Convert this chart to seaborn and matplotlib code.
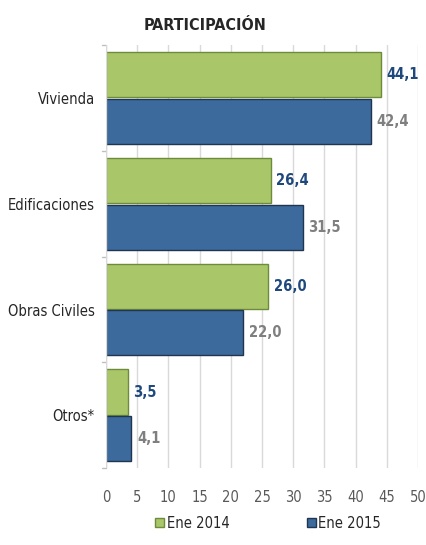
import pandas as pd
import numpy as np
import matplotlib
matplotlib.use("Agg")
import matplotlib.pyplot as plt
import seaborn as sns

# -------------------- DATA --------------------

categories = ["Vivienda", "Edificaciones", "Obras Civiles", "Otros*"]
ene_2014 = [44.1, 26.4, 26.0, 3.5]
ene_2015 = [42.4, 31.5, 22.0, 4.1]
series = ["Ene 2014", "Ene 2015"]
x_ticks = [0, 5, 10, 15, 20, 25, 30, 35, 40, 45, 50]

df = pd.DataFrame({
    "categoria": categories * 2,
    "valor": ene_2014 + ene_2015,
    "serie": [series[0]] * 4 + [series[1]] * 4,
})

# -------------------- STYLE --------------------

sns.set_style("white")
plt.rcParams["font.family"] = ["DejaVu Sans"]
plt.rcParams["font.stretch"] = "condensed"

green = "#A9C768"
blue = "#3D6A9C"
edge = {series[0]: "#6E8B3D", series[1]: "#1F3651"}
lab_col = {series[0]: "#1F497D", series[1]: "#7F7F7F"}

fig = plt.figure(figsize=(4.27, 5.45), dpi=100)
ax = fig.add_axes([0.248, 0.141, 0.731, 0.776])

sns.barplot(data=df, y="categoria", x="valor", hue="serie", orient="h",
            palette=[green, blue], saturation=1, width=0.88, gap=0.03,
            ax=ax, legend=False)

for cont, s in zip(ax.containers, series):
    for bar in cont:
        bar.set_edgecolor(edge[s])
        bar.set_linewidth(1.0)
    ax.bar_label(cont, labels=[f"{v:.1f}".replace(".", ",") for v in cont.datavalues],
                 padding=4, fontsize=10.5, fontweight="bold", color=lab_col[s])

ax.set_xlim(0, 50)
ax.set_ylim(3.5, -0.5)
ax.set_xticks(x_ticks)
ax.set_xticklabels([str(t) for t in x_ticks], fontsize=10.5, color="#595959")
ax.tick_params(axis="x", length=0, pad=16)
ax.tick_params(axis="y", length=0, pad=8, labelsize=10.5)
ax.set_xlabel("")
ax.set_ylabel("")
ax.xaxis.grid(True, color="#D9D9D9", linewidth=1)
ax.set_axisbelow(True)
for sp in ax.spines.values():
    sp.set_visible(False)

# small separators on category axis
for yb in np.arange(-0.5, 4.0, 1.0):
    ax.plot([-0.6, 0], [yb, yb], color="#BFBFBF", lw=1, clip_on=False)
ax.plot([0, 0], [-0.5, 3.5], color="#D9D9D9", lw=1)

fig.text(0.48, 0.953, "PARTICIPACIÓN", ha="center", va="center",
         fontsize=11.5, fontweight="bold")

handles = [plt.Rectangle((0, 0), 1, 1, facecolor=green, edgecolor=edge[series[0]]),
           plt.Rectangle((0, 0), 1, 1, facecolor=blue, edgecolor=edge[series[1]])]
fig.legend(handles, series, loc="center", bbox_to_anchor=(0.628, 0.04), ncol=2,
           frameon=False, fontsize=10.5, handlelength=0.6, handleheight=0.6,
           handletextpad=0.2, columnspacing=5.3)

fig.savefig("out.png", dpi=100)
